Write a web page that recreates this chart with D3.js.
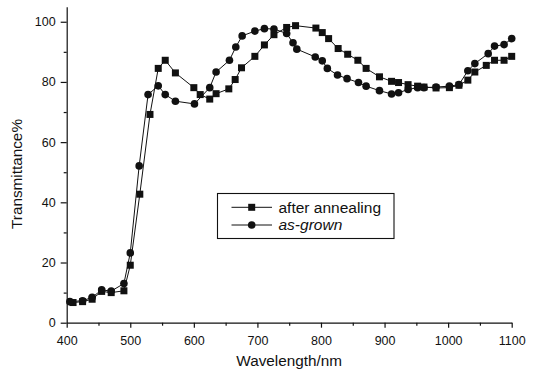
<!DOCTYPE html>
<html>
<head>
<meta charset="utf-8">
<script src="https://cdn.jsdelivr.net/npm/d3@7"></script>
<style>
  html, body { margin: 0; padding: 0; background: #fff; }
  svg { display: block; }
  text { font-family: "Liberation Sans", Arial, Helvetica, sans-serif; fill: #111; }
</style>
</head>
<body>
<svg id="chart" width="537" height="374"></svg>
<script>
// Transmittance spectra (wavelength in nm, transmittance in %)
const annealedWavelength = [410, 425, 440, 455, 470, 490, 500, 515, 531, 544, 555, 571, 600, 610, 625, 635, 655, 665, 675, 696, 711, 726, 746, 760, 792, 802, 812, 827, 842, 858, 871, 892, 911, 922, 937, 952, 962, 981, 1002, 1017, 1031, 1042, 1060, 1073, 1088, 1100];
const annealedT = [6.7, 7.0, 7.8, 10.4, 10.0, 10.6, 19.1, 42.7, 69.2, 84.5, 87.2, 83.0, 78.1, 75.8, 74.3, 76.1, 77.7, 80.8, 84.7, 88.5, 92.3, 95.7, 98.1, 98.7, 97.9, 96.4, 94.4, 91.1, 89.2, 87.2, 84.5, 81.7, 80.2, 79.8, 79.1, 78.6, 78.3, 78.0, 78.1, 78.9, 80.6, 83.3, 85.5, 87.2, 87.2, 88.5];

const grownWavelength = [405, 425, 440, 455, 470, 490, 500, 514, 528, 544, 555, 571, 601, 625, 635, 656, 666, 676, 696, 711, 726, 746, 756, 762, 791, 802, 810, 826, 841, 859, 871, 892, 911, 922, 937, 952, 962, 981, 1002, 1017, 1031, 1042, 1063, 1073, 1088, 1100];
const grownT = [7.0, 7.3, 8.4, 10.9, 10.5, 13.0, 23.2, 52.1, 75.8, 78.7, 75.8, 73.6, 72.7, 78.1, 83.3, 87.2, 91.6, 95.3, 96.9, 97.7, 97.6, 96.1, 93.0, 90.9, 88.3, 87.0, 84.5, 82.3, 81.1, 79.8, 78.6, 77.1, 76.0, 76.4, 77.5, 78.1, 78.1, 78.3, 78.6, 79.1, 83.7, 86.1, 89.4, 91.9, 92.4, 94.4];

const seriesNames = ["after annealing", "as-grown"];
const xTicks = [400, 500, 600, 700, 800, 900, 1000, 1100];
const xMinorTicks = [450, 550, 650, 750, 850, 950, 1050];
const yTicks = [0, 20, 40, 60, 80, 100];
const yMinorTicks = [10, 30, 50, 70, 90];

const svg = d3.select("#chart");

const x = d3.scaleLinear().domain([400, 1100]).range([66.7, 511.7]);
const y = d3.scaleLinear().domain([0, 105]).range([322.7, 6.7]);

// Minor ticks first, so major ones draw on top
svg.append("g")
  .attr("transform", `translate(0,${y(0)})`)
  .call(d3.axisBottom(x).tickValues(xMinorTicks).tickSize(3).tickFormat(""))
  .call(g => g.select(".domain").remove());
svg.append("g")
  .attr("transform", `translate(${x(400)},0)`)
  .call(d3.axisLeft(y).tickValues(yMinorTicks).tickSize(3).tickFormat(""))
  .call(g => g.select(".domain").remove());

const xAxis = svg.append("g")
  .attr("transform", `translate(0,${y(0)})`)
  .call(d3.axisBottom(x).tickValues(xTicks).tickFormat(d3.format("d"))
    .tickSize(5).tickSizeOuter(0).tickPadding(8));
xAxis.selectAll("text").attr("font-size", 12.5);

const yAxis = svg.append("g")
  .attr("transform", `translate(${x(400)},0)`)
  .call(d3.axisLeft(y).tickValues(yTicks).tickFormat(d3.format("d"))
    .tickSize(6).tickSizeOuter(0).tickPadding(5));
yAxis.selectAll("text").attr("font-size", 12.5);

svg.selectAll(".domain, .tick line").attr("stroke", "#111").attr("stroke-width", 1.2);
svg.selectAll(".tick text").attr("fill", "#111").attr("font-family", "'Liberation Sans', Arial, sans-serif");

// Axis titles
svg.append("text")
  .attr("x", (x(400) + x(1100)) / 2)
  .attr("y", 366)
  .attr("text-anchor", "middle")
  .attr("font-size", 15.3)
  .text("Wavelength/nm");

svg.append("text")
  .attr("transform", "translate(22,174) rotate(-90)")
  .attr("text-anchor", "middle")
  .attr("font-size", 15.3)
  .text("Transmittance%");

const line = d3.line().x(d => x(d[0])).y(d => y(d[1]));
const annealed = d3.zip(annealedWavelength, annealedT);
const grown = d3.zip(grownWavelength, grownT);

const plot = svg.append("g");

plot.append("path").datum(annealed)
  .attr("d", line).attr("fill", "none").attr("stroke", "#111").attr("stroke-width", 1);
plot.append("path").datum(grown)
  .attr("d", line).attr("fill", "none").attr("stroke", "#111").attr("stroke-width", 1);

const sq = 7;
plot.selectAll("rect.annealed").data(annealed).join("rect")
  .attr("class", "annealed")
  .attr("x", d => x(d[0]) - sq / 2).attr("y", d => y(d[1]) - sq / 2)
  .attr("width", sq).attr("height", sq).attr("fill", "#111");

plot.selectAll("circle.grown").data(grown).join("circle")
  .attr("class", "grown")
  .attr("cx", d => x(d[0])).attr("cy", d => y(d[1]))
  .attr("r", 3.8).attr("fill", "#111");

// Legend
const legend = svg.append("g");
legend.append("rect")
  .attr("x", 217.5).attr("y", 193.5).attr("width", 176.5).attr("height", 45)
  .attr("fill", "#fff").attr("stroke", "#111").attr("stroke-width", 1.1);

const rows = [207.3, 225];
seriesNames.forEach((name, i) => {
  const ry = rows[i];
  legend.append("line")
    .attr("x1", 231.5).attr("x2", 272).attr("y1", ry).attr("y2", ry)
    .attr("stroke", "#111").attr("stroke-width", 1);
  if (i === 0) {
    legend.append("rect")
      .attr("x", 251.7 - sq / 2).attr("y", ry - sq / 2)
      .attr("width", sq).attr("height", sq).attr("fill", "#111");
  } else {
    legend.append("circle")
      .attr("cx", 251.7).attr("cy", ry).attr("r", 3.8).attr("fill", "#111");
  }
  legend.append("text")
    .attr("x", 278.5).attr("y", ry + 5.2)
    .attr("font-size", 15.5)
    .attr("font-style", i === 1 ? "italic" : "normal")
    .text(name);
});
</script>
</body>
</html>
